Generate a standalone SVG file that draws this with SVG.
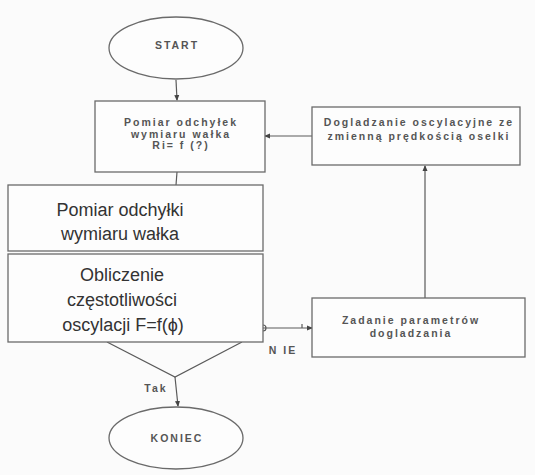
<svg xmlns="http://www.w3.org/2000/svg" width="535" height="475" viewBox="0 0 535 475">
<defs>
<style>
.shape{fill:#fdfdfd;stroke:#6a6a6a;stroke-width:1.3}
.line{fill:none;stroke:#5a5a5a;stroke-width:1.2}
.sm{font-family:"Liberation Sans",Arial,sans-serif;font-size:10.5px;font-weight:bold;fill:#555;letter-spacing:2px;text-anchor:middle}
.lg{font-family:"Liberation Sans",Arial,sans-serif;font-size:18px;fill:#333;text-anchor:middle}
</style>
<marker id="dot" markerWidth="6" markerHeight="6" refX="5" refY="3" orient="auto" markerUnits="userSpaceOnUse">
<path d="M0,0.5 L6,3 L0,5.5 Z" fill="#444"/>
</marker>
</defs>
<rect width="535" height="475" fill="#fbfbfb"/>
<g id="connectors">
<path class="line" d="M176,80 L177,100" marker-end="url(#dot)"/>
<path class="line" d="M312,136 L265,136" marker-end="url(#dot)"/>
<path class="line" d="M177,172 L176,185"/>
<path class="line" d="M107,342 L175,377 L242,342"/>
<path class="line" d="M175,377 L178,406" marker-end="url(#dot)"/>
<path class="line" d="M263,325 a3,3 0 0 1 0,6 M263,328 L312,328" marker-end="url(#dot)"/>
<path class="line" d="M302,324 L302,328"/>
<path class="line" d="M425,298 L425,166" marker-end="url(#dot)"/>
</g>
<g id="start">
<ellipse class="shape" cx="176" cy="48" rx="67" ry="31"/>
<text class="sm" x="177" y="49">START</text>
</g>
<g id="pomiar1">
<rect class="shape" x="95" y="101" width="170" height="71"/>
<text class="sm" x="181" y="126">Pomiar odchyłek</text>
<text class="sm" x="181" y="138">wymiaru wałka</text>
<text class="sm" x="181" y="149">Ri= f (?)</text>
</g>
<g id="pomiar2">
<rect class="shape" x="8" y="185" width="255" height="66"/>
<text class="lg" x="120" y="216">Pomiar odchyłki</text>
<text class="lg" x="120" y="240">wymiaru wałka</text>
</g>
<g id="obliczenie">
<rect class="shape" x="8" y="254" width="255" height="88"/>
<text class="lg" x="122" y="281">Obliczenie</text>
<text class="lg" x="122" y="306">częstotliwości</text>
<text class="lg" x="123" y="331">oscylacji F=f(ϕ)</text>
</g>
<g id="dogladzanie">
<rect class="shape" x="312" y="107" width="208" height="58"/>
<text class="sm" x="419" y="126">Dogladzanie oscylacyjne ze</text>
<text class="sm" x="419" y="140">zmienną prędkością oselki</text>
</g>
<g id="zadanie">
<rect class="shape" x="312" y="298" width="213" height="59"/>
<text class="sm" x="411" y="324">Zadanie parametrów</text>
<text class="sm" x="411" y="337">dogladzania</text>
</g>
<g id="koniec">
<ellipse class="shape" cx="176" cy="438" rx="67" ry="31"/>
<text class="sm" x="177" y="442">KONIEC</text>
</g>
<text class="sm" x="283" y="354">N IE</text>
<text class="sm" x="156" y="392">Tak</text>
</svg>
